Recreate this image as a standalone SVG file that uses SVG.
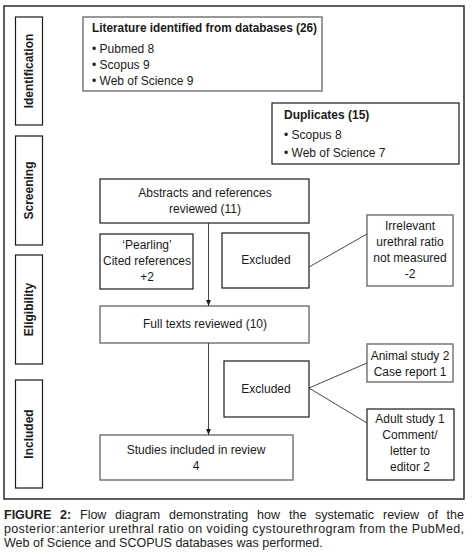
<svg xmlns="http://www.w3.org/2000/svg" width="474" height="556" viewBox="0 0 474 556">
<defs>
<style>
text{font-family:"Liberation Sans",Arial,sans-serif;font-size:12px;fill:#1a1a1a}
.b{font-weight:bold}
.c{text-anchor:middle}
.box{fill:#fff;stroke:#1a1a1a;stroke-width:1.2}
.gbox{fill:#fff;stroke:#6e6e6e;stroke-width:1.4}
.side{fill:#fff;stroke:#1a1a1a;stroke-width:1.2}
.ln{fill:none;stroke:#333;stroke-width:0.9}
.cap{font-size:12.5px;fill:#222}
</style>
<marker id="ah" viewBox="0 0 10 10" refX="10" refY="5" markerWidth="6" markerHeight="6" orient="auto" markerUnits="userSpaceOnUse">
<path d="M0,1 L10,5 L0,9 Z" fill="#1a1a1a"/>
</marker>
</defs>
<rect x="0" y="0" width="474" height="556" fill="#fff"/>
<rect x="4" y="6" width="460" height="493" fill="none" stroke="#1a1a1a" stroke-width="1.4"/>

<g id="stage-identification"><rect class="side" x="15.5" y="17" width="27" height="108"/><text class="b c" transform="translate(33,71) rotate(-90)">Identification</text></g>
<g id="stage-screening"><rect class="side" x="15.5" y="136" width="27" height="109"/><text class="b c" transform="translate(33,190.5) rotate(-90)">Screening</text></g>
<g id="stage-eligibility"><rect class="side" x="15.5" y="255" width="27" height="109"/><text class="b c" transform="translate(33,309.5) rotate(-90)">Eligibility</text></g>
<g id="stage-included"><rect class="side" x="15.5" y="380" width="27" height="108"/><text class="b c" transform="translate(33,434) rotate(-90)">Included</text></g>

<g id="literature"><rect class="gbox" x="83" y="17" width="239" height="74"/>
<text class="b" x="92" y="32" textLength="225" lengthAdjust="spacingAndGlyphs">Literature identified from databases (26)</text>
<text x="92" y="53">• Pubmed 8</text>
<text x="92" y="69">• Scopus 9</text>
<text x="92" y="85">• Web of Science 9</text></g>

<g id="duplicates"><rect class="box" x="272" y="103" width="187" height="61"/>
<text class="b" x="284" y="119">Duplicates (15)</text>
<text x="284" y="139">• Scopus 8</text>
<text x="284" y="157">• Web of Science 7</text></g>

<g id="abstracts"><rect class="box" x="100" y="179" width="209" height="44"/>
<text class="c" x="205" y="197">Abstracts and references</text>
<text class="c" x="205" y="213">reviewed (11)</text></g>

<g id="pearling"><rect class="box" x="100" y="234" width="93" height="55"/>
<text class="c" x="147" y="249">‘Pearling’</text>
<text class="c" x="147" y="265">Cited references</text>
<text class="c" x="147" y="281">+2</text></g>

<g id="excluded1"><rect class="box" x="222" y="233" width="87" height="55"/>
<text class="c" x="266" y="264">Excluded</text></g>

<g id="irrelevant"><rect class="gbox" x="367" y="215" width="86" height="71"/>
<text class="c" x="410" y="230">Irrelevant</text>
<text class="c" x="410" y="246">urethral ratio</text>
<text class="c" x="410" y="262">not measured</text>
<text class="c" x="410" y="278">-2</text></g>

<g id="fulltexts"><rect class="gbox" x="100" y="306" width="209" height="37"/>
<text class="c" x="205" y="328">Full texts reviewed (10)</text></g>

<g id="excluded2"><rect class="box" x="224" y="361" width="85" height="56"/>
<text class="c" x="266" y="393">Excluded</text></g>

<g id="animal"><rect class="gbox" x="367" y="344" width="86" height="38"/>
<text class="c" x="410" y="360">Animal study 2</text>
<text class="c" x="410" y="376">Case report 1</text></g>

<g id="adult"><rect class="box" x="367" y="409" width="87" height="71"/>
<text class="c" x="410" y="423">Adult study 1</text>
<text class="c" x="410" y="439">Comment/</text>
<text class="c" x="410" y="455">letter to</text>
<text class="c" x="410" y="471">editor 2</text></g>

<g id="studies"><rect class="gbox" x="100" y="435" width="193" height="45"/>
<text class="c" x="196" y="454">Studies included in review</text>
<text class="c" x="196" y="470">4</text></g>

<g id="connectors">
<line class="ln" x1="208.5" y1="223" x2="208.5" y2="306" marker-end="url(#ah)"/>
<line class="ln" x1="208.5" y1="343" x2="208.5" y2="435" marker-end="url(#ah)"/>
<line class="ln" x1="309" y1="267" x2="367" y2="234"/>
<line class="ln" x1="309" y1="388" x2="367" y2="363"/>
<line class="ln" x1="309" y1="388" x2="367" y2="423"/>
</g>

<g id="caption">
<text class="cap" y="519"><tspan class="b" x="4">FIGURE</tspan><tspan class="b" x="60">2:</tspan><tspan x="80">Flow</tspan><tspan x="115">diagram</tspan><tspan x="169">demonstrating</tspan><tspan x="257">how</tspan><tspan x="289">the</tspan><tspan x="315">systematic</tspan><tspan x="383">review</tspan><tspan x="427.5">of</tspan><tspan x="464" text-anchor="end">the</tspan></text>
<text class="cap" x="4" y="533" textLength="460" lengthAdjust="spacing">posterior:anterior urethral ratio on voiding cystourethrogram from the PubMed,</text>
<text class="cap" x="4" y="547">Web of Science and SCOPUS databases was performed.</text>
</g>
</svg>
